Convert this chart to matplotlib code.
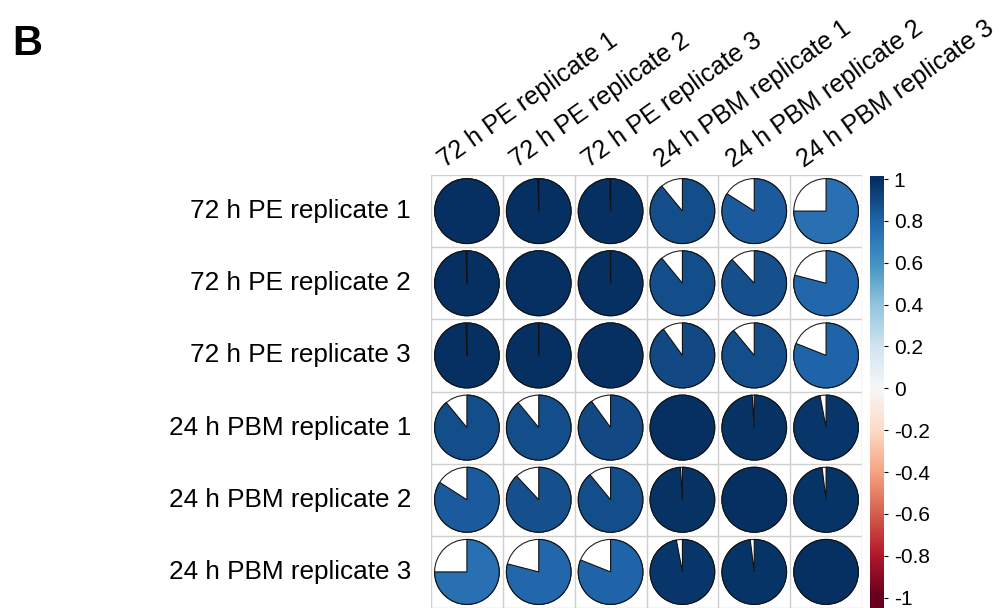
import matplotlib

matplotlib.use("Agg")
import matplotlib.pyplot as plt  # noqa: E402
import numpy as np  # noqa: E402
from matplotlib.patches import Circle, Wedge  # noqa: E402

labels = [
    "72 h PE replicate 1",
    "72 h PE replicate 2",
    "72 h PE replicate 3",
    "24 h PBM replicate 1",
    "24 h PBM replicate 2",
    "24 h PBM replicate 3",
]

# correlation matrix (filled fraction = r)
corr = np.array([
    [1.000, 0.996, 0.996, 0.890, 0.840, 0.750],
    [0.996, 1.000, 0.999, 0.890, 0.880, 0.790],
    [0.996, 0.999, 1.000, 0.900, 0.890, 0.810],
    [0.890, 0.890, 0.900, 1.000, 0.990, 0.970],
    [0.840, 0.880, 0.890, 0.990, 1.000, 0.980],
    [0.750, 0.790, 0.810, 0.970, 0.980, 1.000],
])

cbar_ticks = [-1, -0.8, -0.6, -0.4, -0.2, 0, 0.2, 0.4, 0.6, 0.8, 1]

plt.rcParams["font.family"] = ["Liberation Sans", "DejaVu Sans"]
cmap = plt.get_cmap("RdBu")
norm = matplotlib.colors.Normalize(vmin=-1, vmax=1)

fig = plt.figure(figsize=(10.06, 6.08), dpi=100)
ax = fig.add_axes([431 / 1006, 0.0, 431 / 1006, 433 / 608])
n = len(labels)
ax.set_xlim(0, n)
ax.set_ylim(n, 0)
ax.axis("off")

# grid
for k in range(n + 1):
    ax.plot([k, k], [0, n], color="#cfcfcf", lw=1, zorder=1)
    ax.plot([0, n], [k, k], color="#cfcfcf", lw=1, zorder=1)

radius = 0.45
for i in range(n):
    for j in range(n):
        cx, cy = j + 0.5, i + 0.5
        r = corr[i, j]
        ax.add_patch(Circle((cx, cy), radius, facecolor="white", edgecolor="#222222",
                            lw=0.8, zorder=2))
        # y axis is inverted, so angles run the other way on screen
        ax.add_patch(Wedge((cx, cy), radius, 270, 270 + 360 * r,
                           facecolor=cmap(norm(r)), edgecolor="#111111", lw=0.8, zorder=3))

for i, lab in enumerate(labels):
    ax.text(-0.28, i + 0.5, lab, ha="right", va="center", fontsize=18.8)
    ax.text(i + 0.2, -0.1, lab, ha="left", va="baseline", rotation=35.5,
            rotation_mode="anchor", fontsize=18.2)

fig.text(12 / 1006, 1 - 44 / 608, "B", fontsize=30, fontweight="bold", va="center")

# colour legend
cax = fig.add_axes([870 / 1006, 0.0, 14 / 1006, 432 / 608])
lo, hi = -1.05, 1.015
grad = np.linspace(lo, hi, 400).reshape(-1, 1)
cax.imshow(grad, cmap=cmap, norm=norm, aspect="auto", origin="lower",
           extent=(0, 1, lo, hi))
cax.set_ylim(lo, hi)
cax.set_xticks([])
cax.yaxis.tick_right()
cax.set_yticks(cbar_ticks)
cax.set_yticklabels([f"{t:g}" for t in cbar_ticks], fontsize=15)
cax.tick_params(axis="y", length=3, width=0.8, pad=4)
for s in cax.spines.values():
    s.set_visible(False)

fig.savefig("out.png", dpi=100)
